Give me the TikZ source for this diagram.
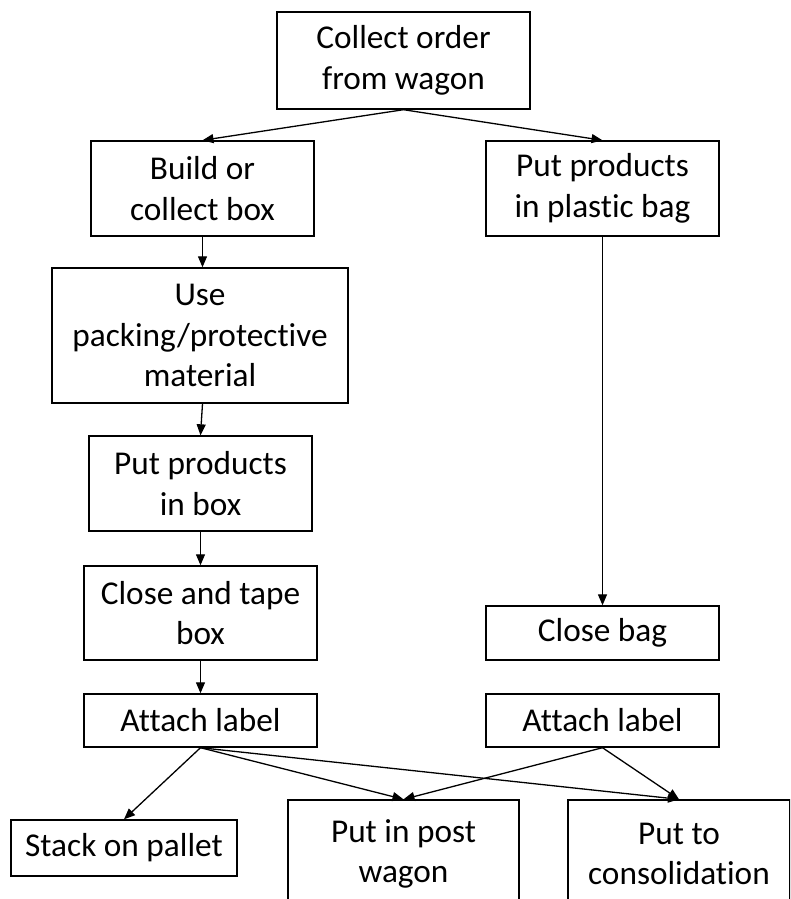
\documentclass[tikz,border=0pt]{standalone}
\usepackage{fontspec}
\setmainfont{Carlito}[Ligatures=NoCommon]
\usetikzlibrary{arrows.meta}
\begin{document}
\begin{tikzpicture}[x=1pt,y=-1pt,
  box/.style={draw, line width=1.4pt, rectangle, inner sep=0pt, align=center,
    font=\fontsize{33.3}{40.5}\selectfont},
  flow/.style={line width=1.3pt, -{Triangle[length=11pt,width=9pt]}}]
\clip (0,0) rectangle (790,899);
\fill[white] (0,0) rectangle (790,899);

% left branch: boxed goods
\node[box, minimum width=253pt, minimum height=97pt] (collect) at (403.5,60.5) {Collect order\\from wagon};
\node[box, minimum width=223pt, minimum height=95pt] (build) at (202.5,188.5) {Build or\\collect box};
\node[box, minimum width=296pt, minimum height=135pt] (use) at (200,335.5) {Use\\packing/protective\\material};
\node[box, minimum width=223pt, minimum height=95pt] (putbox) at (200.5,483.5) {Put products\\in box};
\node[box, minimum width=233pt, minimum height=94pt] (tape) at (200.5,613) {Close and tape\\box};
\node[box, minimum width=233pt, minimum height=53pt] (labelL) at (200.5,720.5) {Attach label};

% right branch: bagged goods
\node[box, minimum width=233pt, minimum height=95pt] (bag) at (602.5,188.5) {Put products\\in plastic bag};
\node[box, minimum width=233pt, minimum height=54pt] (closebag) at (602.5,633) {Close bag};
\node[box, minimum width=233pt, minimum height=53pt] (labelR) at (602.5,720.5) {Attach label};

% destinations
\node[box, minimum width=226pt, minimum height=56pt] (stack) at (124,848) {Stack on pallet};
\node[box, minimum width=231pt, minimum height=108pt] (post) at (403.5,854) {Put in post\\wagon};
\node[box, minimum width=222pt, minimum height=108pt] (consol) at (679,854) {Put to\\consolidation};

% connectors
\draw[flow] (collect.south) -- (build.north);
\draw[flow] (collect.south) -- (bag.north);
\draw[flow] (build.south) -- (use.north -| build.south);
\draw[flow] (use.south -| build.south) -- (putbox.north);
\draw[flow] (putbox.south) -- (tape.north);
\draw[flow] (tape.south) -- (labelL.north);
\draw[flow] (bag.south) -- (closebag.north);
\draw[flow] (labelL.south) -- (stack.north);
\draw[flow] (labelL.south) -- (post.north);
\draw[flow] (labelL.south) -- (consol.north);
\draw[flow] (labelR.south) -- (post.north);
\draw[flow] (labelR.south) -- (consol.north);
\end{tikzpicture}
\end{document}
